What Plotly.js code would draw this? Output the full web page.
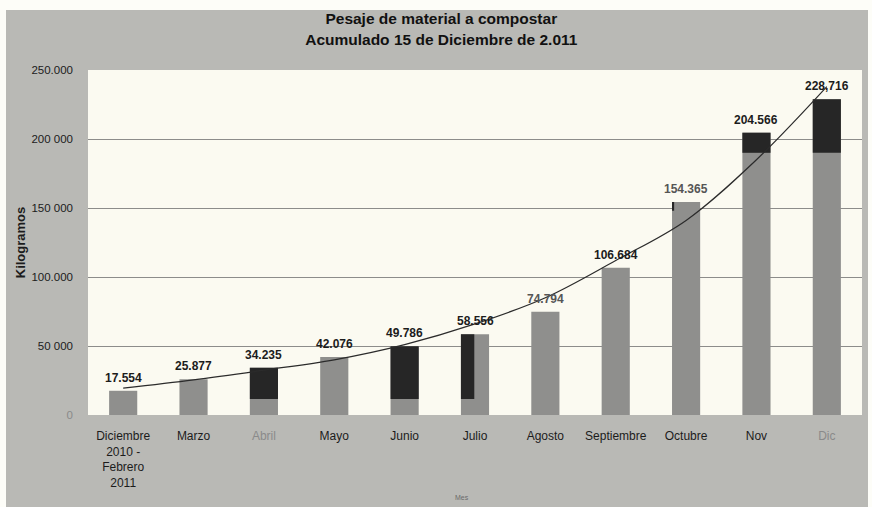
<!DOCTYPE html>
<html>
<head>
<meta charset="utf-8">
<script src="https://cdn.plot.ly/plotly-3.0.1.min.js"></script>
<style>
  html, body { margin: 0; padding: 0; background: #fdfdf8; }
  #chart { position: absolute; left: 6px; top: 10px; width: 862px; height: 497px; }
</style>
</head>
<body>
<div id="chart"></div>
<script>
// ---- data ----
const categories = ["Diciembre<br>2010 -<br>Febrero<br>2011", "Marzo", "Abril", "Mayo", "Junio", "Julio",
                    "Agosto", "Septiembre", "Octubre", "Nov", "Dic"];
const kilograms = [17554, 25877, 34235, 42076, 49786, 58556, 74794, 106684, 154365, 204566, 228716];
const valueLabels = ["17.554", "25.877", "34.235", "42.076", "49.786", "58.556", "74.794",
                     "106.684", "154.365", "204.566", "228,716"];
// dark (scan) blocks drawn over some bars: bottom and top value
const darkBottom = [null, null, 11600, null, 11600, 11600, null, null, 148000, 190000, 190000];
const darkTop    = [null, null, 34235, null, 49786, 58556, null, null, 154365, 204566, 228716];
// trend line
const trend = [19500, 25500, 32500, 40000, 51000, 66000, 85000, 112000, 141000, 185000, 238000];
const yTicks = [0, 50000, 100000, 150000, 200000, 250000];
const yTickLabels = ["0", "50 000", "100.000", "150 000", "200 000", "250.000"];

const FONT = 'Liberation Sans, Arial, sans-serif';
const xIdx = categories.map((c, i) => i);
const tickText = categories.map((c, i) =>
  (c === "Abril" || c === "Dic") ? '<span style="color:#8a8a8a">' + c + '</span>' : c);
const yTickText = yTickLabels.map(t => t === "0" ? '<span style="color:#8a8a8a">0</span>' : t);

const gray = {
  type: 'bar', x: xIdx, y: kilograms,
  width: 0.4,
  marker: { color: '#8f8f8d', line: { width: 0 } },
  hoverinfo: 'skip'
};

const dark = {
  type: 'bar', x: xIdx,
  base: darkBottom,
  y: darkTop.map((t, i) => (t === null ? null : t - darkBottom[i])),
  width: xIdx.map(i => i === 5 ? 0.19 : (i === 8 ? 0.03 : 0.4)),
  offset: xIdx.map(() => -0.2),
  marker: { color: '#262626', line: { width: 0 } },
  hoverinfo: 'skip'
};

const line = {
  type: 'scatter', mode: 'lines', x: xIdx, y: trend,
  line: { color: '#2b2b2b', width: 1.2, shape: 'spline', smoothing: 1 },
  hoverinfo: 'skip'
};

const valueAnnotations = kilograms.map((v, i) => ({
  x: i, y: v, xref: 'x', yref: 'y',
  text: '<b>' + valueLabels[i] + '</b>',
  showarrow: false, yanchor: 'bottom', yshift: 4,
  font: { family: FONT, size: 12, color: (i === 6 || i === 8) ? '#555555' : '#1c1c1c' }
}));

const layout = {
  width: 862, height: 497,
  margin: { l: 82, r: 6, t: 60, b: 92 },
  paper_bgcolor: '#b9b9b5',
  plot_bgcolor: '#fbfaf1',
  showlegend: false,
  barmode: 'overlay',
  font: { family: FONT, color: '#1c1c1c', size: 12 },
  title: {
    text: '<b>Pesaje de material a compostar<br>Acumulado 15 de Diciembre de 2.011</b>',
    font: { size: 15.5, color: '#111' },
    x: 0.505, xanchor: 'center', yref: 'container', y: 0.971, yanchor: 'middle'
  },
  xaxis: {
    tickmode: 'array', tickvals: xIdx, ticktext: tickText,
    range: [-0.5, categories.length - 0.5],
    showgrid: false, zeroline: false, showline: false, ticks: '',
    ticklabelstandoff: 12,
    tickfont: { size: 12, color: '#1c1c1c' }
  },
  yaxis: {
    range: [0, 250000],
    tickmode: 'array', tickvals: yTicks, ticktext: yTickText,
    showgrid: true, gridcolor: '#8c8c8a', gridwidth: 1,
    zeroline: false, showline: false, ticks: '',
    ticklabelstandoff: 14,
    tickfont: { size: 11.5, color: '#1c1c1c' },
    title: { text: '<b>Kilogramos</b>', font: { size: 13, color: '#1c1c1c' }, standoff: 2 }
  },
  annotations: valueAnnotations.concat([{
    text: 'Mes', xref: 'paper', yref: 'paper', x: 0.483, y: 0, yshift: -88,
    showarrow: false, font: { size: 7, color: '#6a6a6a' }
  }])
};

Plotly.newPlot('chart', [gray, dark, line], layout, { displayModeBar: false, staticPlot: true });
</script>
</body>
</html>
